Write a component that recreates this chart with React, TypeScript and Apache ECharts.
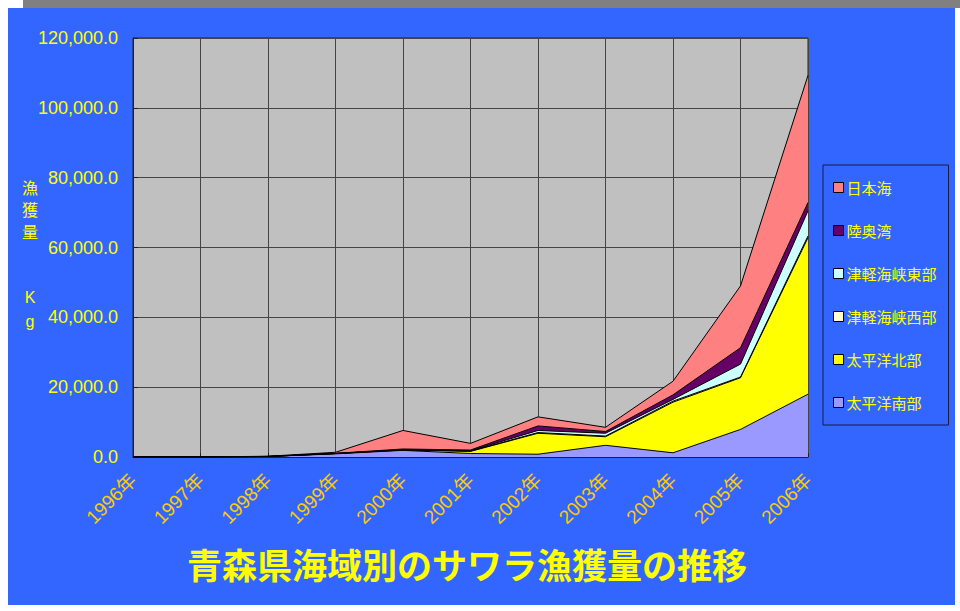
import React, { useEffect, useRef } from "react";
import * as echarts from "echarts";

const years = ["1996年", "1997年", "1998年", "1999年", "2000年", "2001年", "2002年", "2003年", "2004年", "2005年", "2006年"];
const pacificSouth = [0, 0, 150, 900, 1900, 1000, 800, 3350, 1200, 7900, 18000];
const pacificNorth = [0, 0, 0, 100, 100, 600, 6000, 2450, 14500, 14800, 44800];
const tsugaruWest = [0, 0, 0, 0, 50, 100, 200, 200, 300, 200, 500];
const tsugaruEast = [0, 0, 0, 0, 50, 100, 600, 800, 500, 3700, 7200];
const mutsuBay = [0, 0, 20, 50, 200, 200, 1300, 500, 1300, 4700, 2400];
const japanSea = [0, 0, 50, 300, 5300, 1900, 2600, 1200, 3900, 17700, 36400];

const seriesDefs = [
  { name: "太平洋南部", data: pacificSouth, color: "#9999FF" },
  { name: "太平洋北部", data: pacificNorth, color: "#FFFF00" },
  { name: "津軽海峡西部", data: tsugaruWest, color: "#FFFFCC" },
  { name: "津軽海峡東部", data: tsugaruEast, color: "#CCFFFF" },
  { name: "陸奥湾", data: mutsuBay, color: "#660066" },
  { name: "日本海", data: japanSea, color: "#FF8080" },
];
const legendOrder = ["日本海", "陸奥湾", "津軽海峡東部", "津軽海峡西部", "太平洋北部", "太平洋南部"];
const title = "青森県海域別のサワラ漁獲量の推移";

const FONT = "'Liberation Sans', 'Noto Sans CJK JP', sans-serif";
const CJK = "'Noto Sans CJK JP', sans-serif";

export default function App() {
  const ref = useRef<HTMLDivElement>(null);
  useEffect(() => {
    if (!ref.current) return;
    const chart = echarts.init(ref.current, null, { renderer: "svg" });
    chart.setOption({
      animation: false,
      backgroundColor: "#3366FF",
      grid: {
        left: 125,
        right: 147,
        top: 30,
        bottom: 148,
        show: true,
        backgroundColor: "#C0C0C0",
        borderColor: "#222",
        borderWidth: 1,
      },
      legend: {
        orient: "vertical",
        left: 815,
        top: 157,
        data: legendOrder,
        icon: "rect",
        itemWidth: 10,
        itemHeight: 10,
        itemGap: 28,
        padding: [15, 12, 15, 10],
        borderColor: "#1a1a40",
        borderWidth: 1,
        backgroundColor: "#3366FF",
        itemStyle: { borderColor: "#000", borderWidth: 1 },
        textStyle: { color: "#FFFF00", fontSize: 15, fontFamily: CJK, padding: [0, 0, 0, -2] },
      },
      xAxis: {
        type: "category",
        data: years,
        boundaryGap: false,
        axisLine: { show: true, lineStyle: { color: "#222" } },
        axisTick: { show: true, inside: true, length: 4, lineStyle: { color: "#222" } },
        splitLine: { show: true, lineStyle: { color: "#444", width: 1 } },
        axisLabel: {
          rotate: 45,
          margin: 20,
          color: "#FFCC00",
          fontSize: 19,
          fontFamily: FONT,
        },
      },
      yAxis: {
        type: "value",
        min: 0,
        max: 120000,
        interval: 20000,
        axisLine: { show: true, lineStyle: { color: "#222" } },
        axisTick: { show: true, inside: true, length: 5, lineStyle: { color: "#222" } },
        splitLine: { show: true, lineStyle: { color: "#444", width: 1 } },
        axisLabel: {
          margin: 15,
          color: "#FFFF00",
          fontSize: 18,
          fontFamily: FONT,
          formatter: (v: number) =>
            v.toLocaleString("en-US", { minimumFractionDigits: 1, maximumFractionDigits: 1 }),
        },
      },
      series: seriesDefs.map((s) => ({
        name: s.name,
        type: "line",
        stack: "total",
        data: s.data,
        symbol: "none",
        itemStyle: { color: s.color },
        lineStyle: { color: "#000", width: 1 },
        areaStyle: { color: s.color, opacity: 1 },
      })),
      graphic: [
        {
          type: "text",
          x: 22,
          y: 168,
          style: {
            text: "漁\n獲\n量",
            fill: "#FFFF00",
            font: `16px ${CJK}`,
            textAlign: "center",
            lineHeight: 22,
          },
        },
        {
          type: "text",
          x: 22,
          y: 277,
          style: {
            text: "K\ng",
            fill: "#FFFF00",
            font: `16px ${FONT}`,
            textAlign: "center",
            lineHeight: 24,
          },
        },
        {
          type: "text",
          x: 459,
          y: 555,
          style: {
            text: title,
            fill: "#FFFF00",
            font: `bold 35px ${CJK}`,
            textAlign: "center",
            textVerticalAlign: "middle",
          },
        },
      ],
    });
    return () => chart.dispose();
  }, []);
  return (
    <div style={{ position: "absolute", left: 0, top: 0, width: 960, height: 611, background: "#fff" }}>
      <div style={{ position: "absolute", left: 23, top: 0, width: 937, height: 8, background: "#808080" }} />
      <div ref={ref} style={{ position: "absolute", left: 8, top: 8, width: 947, height: 597 }} />
    </div>
  );
}
